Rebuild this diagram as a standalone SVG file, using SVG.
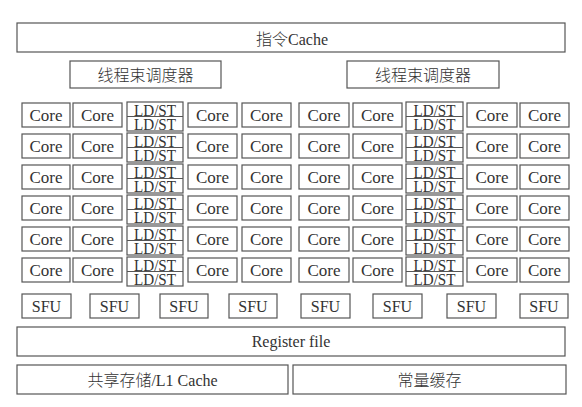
<svg xmlns="http://www.w3.org/2000/svg" width="582" height="407" viewBox="0 0 582 407">
<style>
rect{fill:#fff;stroke:#555;stroke-width:1.2}
line{stroke:#555;stroke-width:1.2}
text{font-family:"Liberation Serif","Noto Sans CJK SC",serif;fill:#333;text-anchor:middle;font-size:16px}
.c{font-size:17px}
.l{font-size:17px}
.cn{font-size:16px;font-weight:300}
</style>
<rect x="0" y="0" width="582" height="407" style="fill:#fff;stroke:none"/>
<g id="icache"><rect x="17" y="23" width="548" height="29"/><text x="292" y="45" style="font-weight:300">指令Cache</text></g>
<g id="sched-left"><rect x="70" y="61" width="151" height="27"/><text class="cn" x="145.5" y="80.5">线程束调度器</text></g>
<g id="sched-right"><rect x="347" y="61" width="152" height="27"/><text class="cn" x="423" y="80.5">线程束调度器</text></g>
<defs>
<g id="row">
<rect x="22" y="0" width="48" height="24"/><text class="c" x="46" y="17.5">Core</text>
<rect x="73" y="0" width="49" height="24"/><text class="c" x="97.5" y="17.5">Core</text>
<rect x="127" y="-1" width="56" height="29"/><line x1="127" y1="13.5" x2="183" y2="13.5"/>
<text class="l" x="155" y="12.5" textLength="42" lengthAdjust="spacingAndGlyphs">LD/ST</text>
<text class="l" x="155" y="27" textLength="42" lengthAdjust="spacingAndGlyphs">LD/ST</text>
<rect x="188" y="0" width="49" height="24"/><text class="c" x="212.5" y="17.5">Core</text>
<rect x="242" y="0" width="49" height="24"/><text class="c" x="266.5" y="17.5">Core</text>
<rect x="299" y="0" width="50" height="24"/><text class="c" x="324" y="17.5">Core</text>
<rect x="353" y="0" width="49" height="24"/><text class="c" x="377.5" y="17.5">Core</text>
<rect x="406" y="-1" width="57" height="29"/><line x1="406" y1="13.5" x2="463" y2="13.5"/>
<text class="l" x="434.5" y="12.5" textLength="42" lengthAdjust="spacingAndGlyphs">LD/ST</text>
<text class="l" x="434.5" y="27" textLength="42" lengthAdjust="spacingAndGlyphs">LD/ST</text>
<rect x="467" y="0" width="50" height="24"/><text class="c" x="492" y="17.5">Core</text>
<rect x="520" y="0" width="49" height="24"/><text class="c" x="544.5" y="17.5">Core</text>
</g>
</defs>
<g id="core-row-1"><use href="#row" x="0" y="103"/></g>
<g id="core-row-2"><use href="#row" x="0" y="134"/></g>
<g id="core-row-3"><use href="#row" x="0" y="165"/></g>
<g id="core-row-4"><use href="#row" x="0" y="196"/></g>
<g id="core-row-5"><use href="#row" x="0" y="227"/></g>
<g id="core-row-6"><use href="#row" x="0" y="258"/></g>
<g id="sfu">
<rect x="22" y="294" width="49" height="24"/><text x="46.5" y="311.5">SFU</text>
<rect x="90" y="294" width="49" height="24"/><text x="114.5" y="311.5">SFU</text>
<rect x="160" y="294" width="48" height="24"/><text x="184" y="311.5">SFU</text>
<rect x="229" y="294" width="48" height="24"/><text x="253" y="311.5">SFU</text>
<rect x="301" y="294" width="49" height="24"/><text x="325.5" y="311.5">SFU</text>
<rect x="373" y="294" width="49" height="24"/><text x="397.5" y="311.5">SFU</text>
<rect x="447" y="294" width="49" height="24"/><text x="471.5" y="311.5">SFU</text>
<rect x="520" y="294" width="48" height="24"/><text x="544" y="311.5">SFU</text>
</g>
<g id="register-file"><rect x="17" y="327" width="548" height="29"/><text x="291" y="347">Register file</text></g>
<g id="shared-mem"><rect x="17" y="365" width="271" height="29"/><text class="cn" x="152.5" y="385.5">共享存储/L1 Cache</text></g>
<g id="const-cache"><rect x="293" y="365" width="273" height="29"/><text class="cn" x="429.5" y="385.5">常量缓存</text></g>
<g id="connectors"></g>
</svg>
